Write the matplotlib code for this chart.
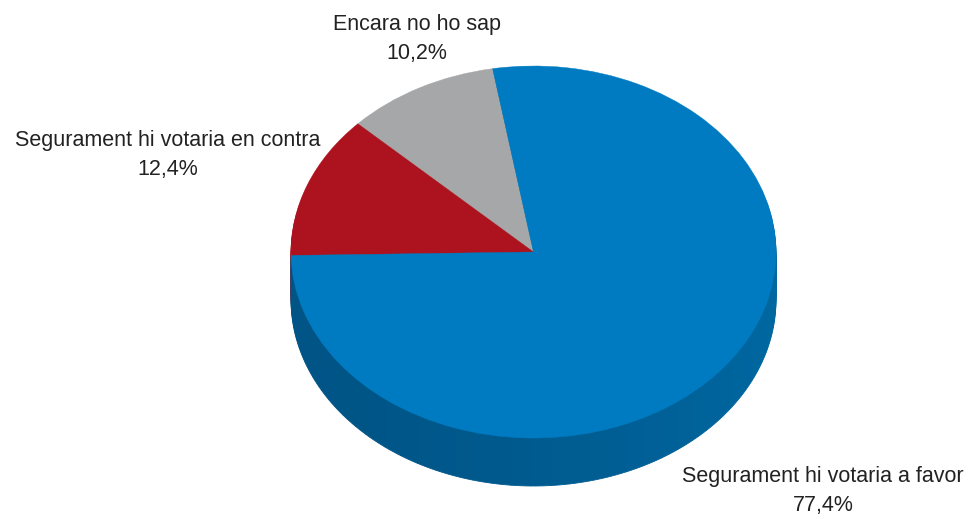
import matplotlib
matplotlib.use('Agg')
import matplotlib.pyplot as plt
import numpy as np

categories = ['Encara no ho sap', 'Segurament hi votaria en contra', 'Segurament hi votaria a favor']
values = [10.2, 12.4, 77.4]
value_labels = ['10,2%', '12,4%', '77,4%']
colors = ['#a6a7a9', '#ad131e', '#007bc1']

plt.rcParams['font.family'] = ['Liberation Sans Narrow', 'Liberation Sans', 'DejaVu Sans']


def wall_color(angle):
    # side of the pie is a bit lighter towards the right
    left = np.array([0, 84, 134]) / 255
    right = np.array([0, 103, 160]) / 255
    t = (np.cos(np.radians(angle)) + 1) / 2
    return tuple(left + (right - left) * t ** 1.5)


fig = plt.figure(figsize=(9.68, 5.19), dpi=100)
ax = fig.add_axes([0, 0, 1, 1])

start = 99.7
n_wall = 60
wall_values = values[:2] + [values[2] / n_wall] * n_wall
blue_start = start + (values[0] + values[1]) * 3.6
wall_colors = colors[:2] + [wall_color(blue_start + (i + 0.5) * values[2] * 3.6 / n_wall)
                            for i in range(n_wall)]

# shifted copies make the side of the pie
for depth in np.linspace(0.258, 0.01, 24):
    wedges, _ = ax.pie(wall_values, colors=wall_colors, startangle=start, counterclock=True,
                       center=(0, -depth), normalize=True)
    for w, c in zip(wedges, wall_colors):
        w.set_edgecolor(c)
        w.set_linewidth(0.6)

wedges, _ = ax.pie(values, colors=colors, startangle=start, counterclock=True, normalize=True)
for w, c in zip(wedges, colors):
    w.set_edgecolor(c)
    w.set_linewidth(0.3)

ax.set_aspect('auto')
ax.set_xlim(-533.5 / 242.5, (968 - 533.5) / 242.5)
ax.set_ylim(-(519 - 252) / 186, 252 / 186)
ax.axis('off')


def label(x_px, y_px, name, value):
    fig.text(x_px / 968, 1 - y_px / 519, name + '\n' + value, ha='center', va='center',
             fontsize=15.5, color='#222222', linespacing=1.55)


label(417, 39, categories[0], value_labels[0])
label(168, 155, categories[1], value_labels[1])
label(823, 491, categories[2], value_labels[2])

fig.savefig('out.png', dpi=100)
